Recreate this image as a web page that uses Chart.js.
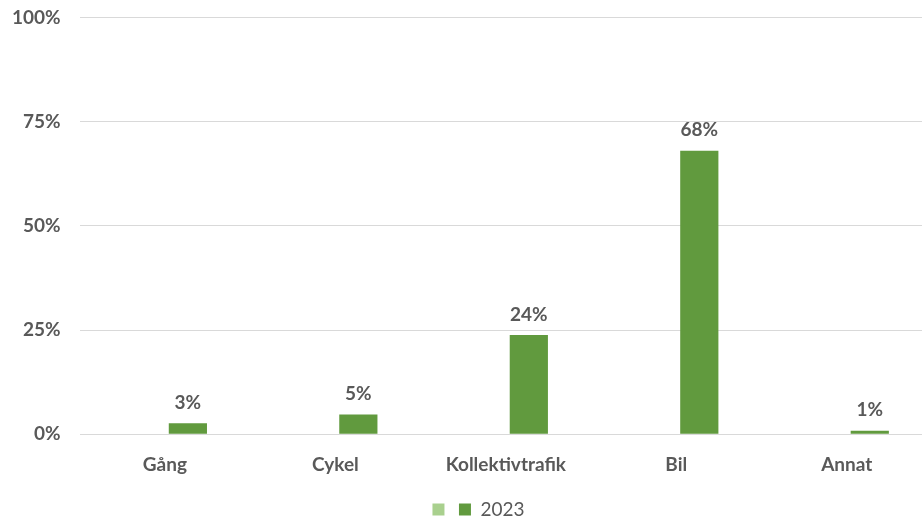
<!DOCTYPE html>
<html>
<head>
<meta charset="utf-8">
<script src="https://cdn.jsdelivr.net/npm/chart.js@4"></script>
<style>
  html, body { margin: 0; padding: 0; background: #fff; overflow: hidden; }
  #wrap { width: 939px; height: 542px; margin-top: -13px; margin-left: -7px; }
</style>
</head>
<body>
<div id="wrap"><canvas id="chart"></canvas></div>
<script>
// Kategorier och värden (andel resor, %)
const categories = ['Gång', 'Cykel', 'Kollektivtrafik', 'Bil', 'Annat'];
const valuesPrev = [null, null, null, null, null]; // tom serie i legenden
const values2023 = [2.6, 4.7, 23.8, 68.0, 0.8];
const yTicks = [0, 25, 50, 75, 100];

const textColor = '#595959';
const gridColor = '#d9d9d9';

// Enkel plugin som skriver värdet ovanför varje stapel
const barLabels = {
    id: 'barLabels',
    afterLayout(chart) {
        // flytta legenden lite åt höger, som i originalet
        chart.legend.left += 16;
        chart.legend.right += 16;
    },
    afterDatasetsDraw(chart) {
        const ctx = chart.ctx;
        ctx.save();
        ctx.font = 'bold 19px Lato';
        ctx.fillStyle = textColor;
        ctx.textAlign = 'center';
        ctx.textBaseline = 'bottom';
        chart.data.datasets.forEach((ds, i) => {
            const meta = chart.getDatasetMeta(i);
            meta.data.forEach((bar, j) => {
                const v = ds.data[j];
                if (v == null) return;
                ctx.fillText(Math.round(v) + '%', bar.x, bar.y - 11);
            });
        });
        ctx.restore();
    }
};

new Chart(document.getElementById('chart'), {
    type: 'bar',
    data: {
        labels: categories,
        datasets: [{
            label: '',
            data: valuesPrev,
            backgroundColor: '#a9d08e'
        }, {
            label: '2023',
            data: values2023,
            backgroundColor: '#619a3e'
        }]
    },
    options: {
        responsive: true,
        maintainAspectRatio: false,
        animation: false,
        categoryPercentage: 0.54,
        barPercentage: 0.83,
        layout: { padding: 0 },
        plugins: {
            tooltip: { enabled: false },
            legend: {
                position: 'bottom',
                labels: {
                    boxWidth: 12,
                    boxHeight: 12,
                    padding: 5,
                    color: textColor,
                    font: { family: 'Lato', size: 19 }
                }
            }
        },
        scales: {
            x: {
                grid: { display: false, drawTicks: false },
                border: { display: false },
                ticks: {
                    color: textColor,
                    padding: 19,
                    font: { family: 'Lato', size: 19, weight: 'bold' }
                }
            },
            y: {
                min: 0,
                max: 100,
                afterBuildTicks(axis) {
                    axis.ticks = yTicks.map(v => ({ value: v }));
                },
                grid: { color: gridColor, lineWidth: 1, drawTicks: false },
                border: { display: false },
                ticks: {
                    color: textColor,
                    padding: 19,
                    font: { family: 'Lato', size: 19, weight: 'bold' },
                    callback: v => v + '%'
                }
            }
        }
    },
    plugins: [barLabels]
});
</script>
</body>
</html>
